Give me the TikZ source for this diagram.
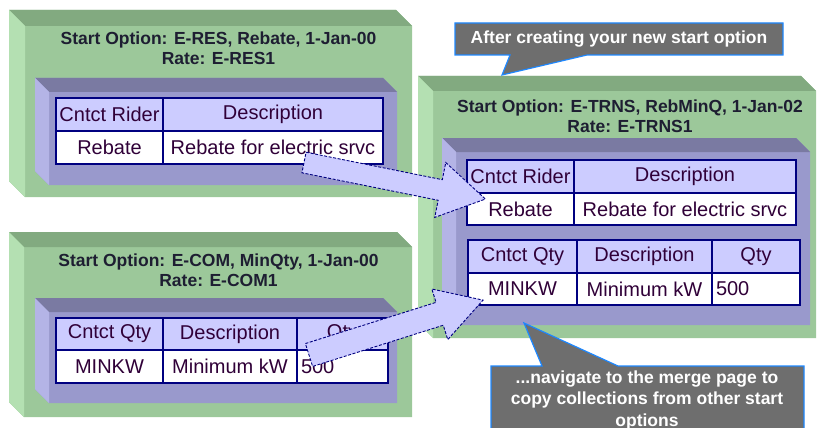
\documentclass[tikz,border=0pt]{standalone}
\usepackage{fontspec}
\setmainfont{Liberation Sans}
\usetikzlibrary{calc}
\definecolor{gface}{RGB}{156,200,154}
\definecolor{gtop}{RGB}{130,170,128}
\definecolor{gleft}{RGB}{180,224,178}
\definecolor{pface}{RGB}{153,153,204}
\definecolor{ptop}{RGB}{122,122,162}
\definecolor{pleft}{RGB}{180,180,230}
\definecolor{hdr}{RGB}{204,204,255}
\definecolor{navy}{RGB}{0,0,128}
\definecolor{txt}{RGB}{48,0,56}
\definecolor{ttl}{RGB}{30,30,50}
\definecolor{callfill}{RGB}{110,110,110}
\definecolor{callline}{RGB}{30,136,255}
\definecolor{arrfill}{RGB}{204,204,255}
% bevelled 3D box: L,T,R,B,d,colour prefix
\newcommand\bevbox[6]{%
  \fill[#6face] (#1,#2) -- (#3-#5,#2) -- (#3,#2+#5) -- (#3,#4) -- (#1+#5,#4) -- (#1,#4-#5) -- cycle;
  \fill[#6top] (#1,#2) -- (#3-#5,#2) -- (#3,#2+#5) -- (#1+#5,#2+#5) -- cycle;
  \fill[#6left] (#1,#2) -- (#1+#5,#2+#5) -- (#1+#5,#4) -- (#1,#4-#5) -- cycle;
}
\tikzset{
  cell/.style={rectangle, draw=navy, line width=1.8pt, inner sep=0pt, text=txt,
    font=\fontsize{20}{22}\selectfont},
  hcell/.style={cell, fill=hdr},
  dcell/.style={cell, fill=white},
  titletext/.style={align=center, text=ttl, font=\bfseries\fontsize{17.5}{20}\selectfont},
  calltext/.style={align=center, text=white, font=\bfseries\fontsize{17.5}{21.5}\selectfont},
  callout/.style={fill=callfill, draw=callline, line width=1.2pt},
  blockarrow/.style={fill=arrfill, draw=navy, dash pattern=on 3pt off 1.6pt, line width=0.9pt, line join=miter},
}
\begin{document}
\begin{tikzpicture}[x=1pt,y=-1pt]
\useasboundingbox (0,0) rectangle (817,428);
\clip (0,0) rectangle (817,428);

% ---- Box A ----
\bevbox{9}{10}{412}{197}{16}{g}
\node[titletext] (titleA) at (218.5,48) {Start Option: E-RES, Rebate, 1-Jan-00\\Rate: E-RES1};
\bevbox{35}{78}{397}{185}{14}{p}
\node[hcell, minimum width=107, minimum height=33] (a11) at (109.5,114.5) {Cntct Rider};
\node[hcell, minimum width=220, minimum height=33] (a12) at (273,114.5) {Description};
\node[dcell, minimum width=107, minimum height=33] (a21) at (109.5,147.5) {Rebate};
\node[dcell, minimum width=220, minimum height=33] (a22) at (273,147.5) {Rebate for electric srvc};

% ---- Box B ----
\bevbox{9}{232}{412}{417}{15}{g}
\node[titletext] (titleB) at (218.5,270) {Start Option: E-COM, MinQty, 1-Jan-00\\Rate: E-COM1};
\bevbox{35}{298}{397}{403}{14}{p}
\node[hcell, minimum width=107, minimum height=32] (b11) at (109.5,334) {Cntct Qty};
\node[hcell, minimum width=134, minimum height=32] (b12) at (230,334) {Description};
\node[hcell, minimum width=91, minimum height=32] (b13) at (342.5,334) {Qty};
\node[dcell, minimum width=107, minimum height=33] (b21) at (109.5,366.5) {MINKW};
\node[dcell, minimum width=134, minimum height=33] (b22) at (230,366.5) {Minimum kW};
\node[dcell, minimum width=91, minimum height=33, text width=83, inner xsep=4pt, align=left] (b23) at (342.5,366.5) {500};

% ---- Box C ----
\bevbox{418}{76}{816}{338}{15}{g}
\node[titletext] (titleC) at (630,116.5) {Start Option: E-TRNS, RebMinQ, 1-Jan-02\\Rate: E-TRNS1};
\bevbox{442}{138}{810}{325}{14}{p}
\node[hcell, minimum width=107, minimum height=33] (c11) at (520.5,176.5) {Cntct Rider};
\node[hcell, minimum width=222, minimum height=33] (c12) at (685,176.5) {Description};
\node[dcell, minimum width=107, minimum height=32] (c21) at (520.5,209) {Rebate};
\node[dcell, minimum width=222, minimum height=32] (c22) at (685,209) {Rebate for electric srvc};
\node[hcell, minimum width=109, minimum height=33] (d11) at (522.5,256.5) {Cntct Qty};
\node[hcell, minimum width=135, minimum height=33] (d12) at (644.5,256.5) {Description};
\node[hcell, minimum width=88, minimum height=33] (d13) at (756,256.5) {Qty};
\node[dcell, minimum width=109, minimum height=32] (d21) at (522.5,289) {MINKW};
\node[dcell, minimum width=135, minimum height=32] (d22) at (644.5,289) {Minimum kW};
\node[dcell, minimum width=88, minimum height=32, text width=80, inner xsep=4pt, align=left] (d23) at (756,289) {500};

% ---- Callout 1 ----
\draw[callout] (455,23) -- (783,23) -- (783,55) -- (587,55) -- (502,75) -- (510,55) -- (455,55) -- cycle;
\node[calltext] (call1) at (619,39) {After creating your new start option};

% ---- Callout 2 ----
\draw[callout] (491,366) -- (542,366) -- (524,323) -- (618,366) -- (804,366) -- (804,440) -- (491,440) -- cycle;
\node[calltext, anchor=north] (call2) at (647,367) {...navigate to the merge page to\\copy collections from other start\\options};

% ---- Block arrows ----
\coordinate (t1) at (304,162.5);
\coordinate (t2) at (309,355);
\begin{scope}[shift={(t1)}, rotate=-11.4]
  \draw[blockarrow] (0,-10.5) -- (139,-10.5) -- (139,-28) -- (185,0) -- (139,28) -- (139,10.5) -- (0,10.5) -- cycle;
\end{scope}
\begin{scope}[shift={(t2)}, rotate=17.5]
  \draw[blockarrow] (0,-12) -- (137,-12) -- (137,-26) -- (182.5,0) -- (137,27) -- (137,12) -- (0,12) -- cycle;
\end{scope}
\end{tikzpicture}
\end{document}
